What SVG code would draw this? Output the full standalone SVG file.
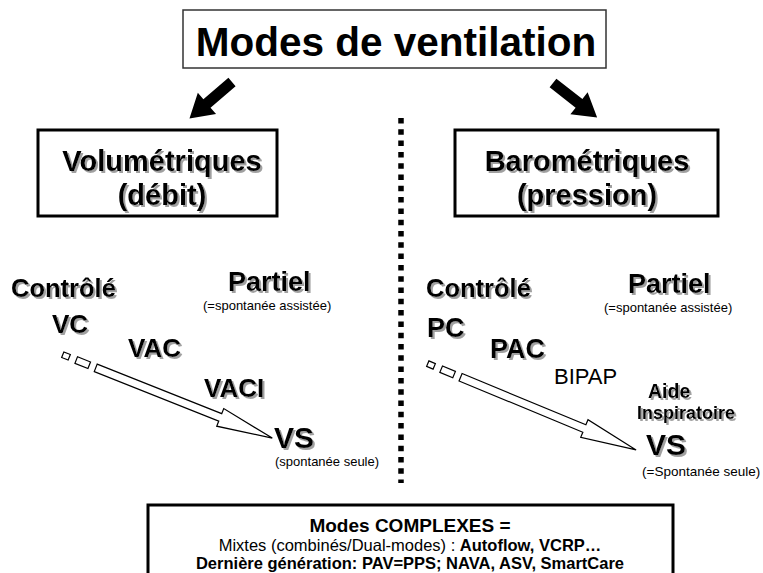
<svg xmlns="http://www.w3.org/2000/svg" width="763" height="573" viewBox="0 0 763 573">
<style>
text{font-family:"Liberation Sans",Arial,sans-serif;fill:#000}
.b{font-weight:bold}
.m{text-anchor:middle}
.box{fill:#fff;stroke:#000;stroke-width:3}
.hol{fill:#fff;stroke:#000;stroke-width:1.2}
</style>
<defs>
<filter id="sh" x="-10%" y="-20%" width="130%" height="150%">
<feOffset in="SourceAlpha" dx="2" dy="2" result="o"/>
<feFlood flood-color="#a0a0a0"/>
<feComposite in2="o" operator="in" result="s"/>
<feMerge><feMergeNode in="s"/><feMergeNode in="SourceGraphic"/></feMerge>
</filter>
<g id="hollow">
<rect class="hol" x="-3.5" y="-3" width="7" height="6"/>
<rect class="hol" x="11" y="-3.5" width="14" height="7"/>
<polygon class="hol" points="32,-4 166,-4 166,-9.5 222,0 166,9.5 166,4 32,4"/>
</g>
<polygon id="fat" points="0,-5.5 33,-5.5 33,-14 56,0 33,14 33,5.5 0,5.5" fill="#000"/>
</defs>
<rect width="763" height="573" fill="#fff"/>

<g id="title">
<rect x="183" y="10" width="423" height="58" fill="#fff" stroke="#333" stroke-width="1.5"/>
<text class="b m" x="396" y="56" font-size="40.5">Modes de ventilation</text>
</g>

<g id="connectors">
<use href="#fat" transform="translate(232,82) rotate(139.4)"/>
<use href="#fat" transform="translate(553,83) rotate(38)"/>
<line x1="401" y1="118" x2="401" y2="483" stroke="#000" stroke-width="5.5" stroke-dasharray="5.5 5.8"/>
<use href="#hollow" transform="translate(66,356) rotate(21.7)"/>
<use href="#hollow" transform="translate(431,365) rotate(22.5)"/>
</g>

<g id="volumetriques">
<rect class="box" x="38" y="130" width="239" height="86"/>
<g filter="url(#sh)">
<text class="b m" x="162" y="171" font-size="29">Volumétriques</text>
<text class="b m" x="162" y="205" font-size="29">(débit)</text>
</g>
</g>

<g id="barometriques">
<rect class="box" x="455" y="130" width="263" height="86"/>
<g filter="url(#sh)">
<text class="b m" x="587" y="171" font-size="29">Barométriques</text>
<text class="b m" x="587" y="205" font-size="29">(pression)</text>
</g>
</g>

<g id="left-modes">
<g filter="url(#sh)">
<text class="b" x="11" y="297" font-size="25.5">Contrôlé</text>
<text class="b" x="228" y="291" font-size="27">Partiel</text>
<text class="b" x="52" y="333" font-size="26">VC</text>
<text class="b" x="128" y="357" font-size="26">VAC</text>
<text class="b" x="204" y="397" font-size="26">VACI</text>
<text class="b" x="274" y="448" font-size="30">VS</text>
</g>
<text x="203" y="310" font-size="13">(=spontanée assistée)</text>
<text x="275" y="466" font-size="13">(spontanée seule)</text>
</g>

<g id="right-modes">
<g filter="url(#sh)">
<text class="b" x="426" y="297" font-size="25.5">Contrôlé</text>
<text class="b" x="628" y="293" font-size="27">Partiel</text>
<text class="b" x="427" y="337" font-size="27">PC</text>
<text class="b" x="490" y="358" font-size="27">PAC</text>
<text class="b" x="648" y="398" font-size="19.5">Aide</text>
<text class="b" x="637" y="419" font-size="18">Inspiratoire</text>
<text class="b" x="646" y="455" font-size="30">VS</text>
</g>
<text x="554" y="384" font-size="22">BIPAP</text>
<text x="604" y="312" font-size="13">(=spontanée assistée)</text>
<text x="642" y="476" font-size="13.5">(=Spontanée seule)</text>
</g>

<g id="complexes">
<rect class="box" x="148" y="505" width="525" height="80"/>
<text class="b m" x="410" y="532" font-size="19">Modes COMPLEXES =</text>
<text class="m" x="410" y="551" font-size="16.5">Mixtes (combinés/Dual-modes) : <tspan class="b">Autoflow, VCRP…</tspan></text>
<text class="b m" x="410" y="569" font-size="16.5">Dernière génération: PAV=PPS; NAVA, ASV, SmartCare</text>
</g>
</svg>
